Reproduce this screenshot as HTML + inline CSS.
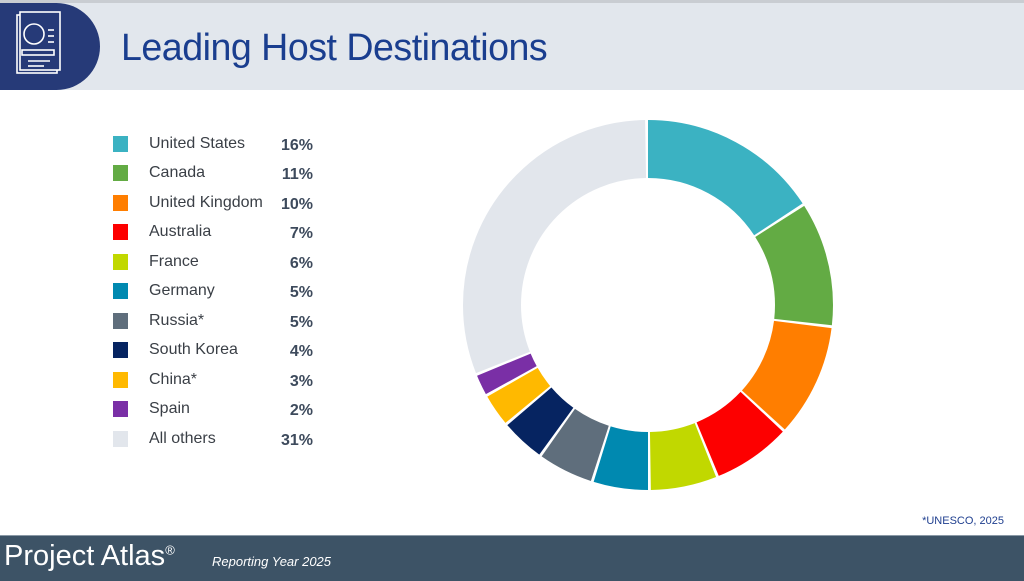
<!DOCTYPE html>
<html><head><meta charset="utf-8"><style>
body{margin:0;width:1024px;height:580px;overflow:hidden;background:#fff;font-family:"Liberation Sans",sans-serif;position:relative}
.top{position:absolute;left:0;top:0;width:1024px;height:3px;background:#c9cdd2}
.hdr{position:absolute;left:0;top:3px;width:1024px;height:87px;background:#e2e7ed}
.blob{position:absolute;left:0;top:3px;width:100px;height:87px;background:#263a78;border-radius:0 44px 44px 0}
h1{position:absolute;left:121px;top:26px;margin:0;font-weight:normal;font-size:37.6px;color:#1a3e8f;letter-spacing:-0.5px}
.row{position:absolute;left:113px;height:20px;font-size:16px;color:#3a3f46}
.sq{position:absolute;left:0;top:1px;width:15px;height:16px}
.lb{position:absolute;left:36px;top:0;white-space:nowrap}
.pc{position:absolute;left:160px;width:40px;text-align:right;top:2px;font-weight:bold;color:#3d4a5c}
.ft{position:absolute;left:0;top:535px;width:1024px;height:45px;background:#3d5366;border-top:1px solid #8a99a6}
</style></head><body>
<div class="top"></div><div class="hdr"></div><div class="blob"></div>
<svg style="position:absolute;left:14px;top:10px" width="60" height="70" viewBox="0 0 60 70" fill="none" stroke="#fff" stroke-width="1.6">
<rect x="3" y="5" width="40" height="58"/><rect x="6" y="2" width="40" height="58" fill="#263a78"/>
<circle cx="20" cy="24" r="10"/><line x1="34" y1="20" x2="40" y2="20"/><line x1="34" y1="26" x2="40" y2="26"/><line x1="34" y1="32" x2="40" y2="32"/>
<rect x="8" y="40" width="32" height="5"/><line x1="14" y1="51" x2="36" y2="51"/><line x1="14" y1="56" x2="30" y2="56"/>
</svg>
<h1>Leading Host Destinations</h1>
<div class="row" style="top:135px"><div class="sq" style="background:#3bb2c2"></div><div class="lb">United States</div><div class="pc">16%</div></div>
<div class="row" style="top:164px"><div class="sq" style="background:#63ab44"></div><div class="lb">Canada</div><div class="pc">11%</div></div>
<div class="row" style="top:194px"><div class="sq" style="background:#ff7e00"></div><div class="lb">United Kingdom</div><div class="pc">10%</div></div>
<div class="row" style="top:223px"><div class="sq" style="background:#fd0000"></div><div class="lb">Australia</div><div class="pc">7%</div></div>
<div class="row" style="top:253px"><div class="sq" style="background:#c1d800"></div><div class="lb">France</div><div class="pc">6%</div></div>
<div class="row" style="top:282px"><div class="sq" style="background:#0089b0"></div><div class="lb">Germany</div><div class="pc">5%</div></div>
<div class="row" style="top:312px"><div class="sq" style="background:#5f6e7c"></div><div class="lb">Russia*</div><div class="pc">5%</div></div>
<div class="row" style="top:341px"><div class="sq" style="background:#062461"></div><div class="lb">South Korea</div><div class="pc">4%</div></div>
<div class="row" style="top:371px"><div class="sq" style="background:#ffb900"></div><div class="lb">China*</div><div class="pc">3%</div></div>
<div class="row" style="top:400px"><div class="sq" style="background:#7a2fa6"></div><div class="lb">Spain</div><div class="pc">2%</div></div>
<div class="row" style="top:430px"><div class="sq" style="background:#e2e6ec"></div><div class="lb">All others</div><div class="pc">31%</div></div>
<svg style="position:absolute;left:448px;top:105px" width="400" height="400" viewBox="0 0 400 400">
<g transform="rotate(-90 200 200)" fill="none" stroke-width="58">
<circle cx="200" cy="200" r="156" pathLength="100" stroke="#3bb2c2" stroke-dasharray="15.75 200" stroke-dashoffset="0"/>
<circle cx="200" cy="200" r="156" pathLength="100" stroke="#63ab44" stroke-dasharray="10.75 200" stroke-dashoffset="-16"/>
<circle cx="200" cy="200" r="156" pathLength="100" stroke="#ff7e00" stroke-dasharray="9.75 200" stroke-dashoffset="-27"/>
<circle cx="200" cy="200" r="156" pathLength="100" stroke="#fd0000" stroke-dasharray="6.75 200" stroke-dashoffset="-37"/>
<circle cx="200" cy="200" r="156" pathLength="100" stroke="#c1d800" stroke-dasharray="5.75 200" stroke-dashoffset="-44"/>
<circle cx="200" cy="200" r="156" pathLength="100" stroke="#0089b0" stroke-dasharray="4.75 200" stroke-dashoffset="-50"/>
<circle cx="200" cy="200" r="156" pathLength="100" stroke="#5f6e7c" stroke-dasharray="4.75 200" stroke-dashoffset="-55"/>
<circle cx="200" cy="200" r="156" pathLength="100" stroke="#062461" stroke-dasharray="3.75 200" stroke-dashoffset="-60"/>
<circle cx="200" cy="200" r="156" pathLength="100" stroke="#ffb900" stroke-dasharray="2.75 200" stroke-dashoffset="-64"/>
<circle cx="200" cy="200" r="156" pathLength="100" stroke="#7a2fa6" stroke-dasharray="1.75 200" stroke-dashoffset="-67"/>
<circle cx="200" cy="200" r="156" pathLength="100" stroke="#e2e6ec" stroke-dasharray="30.75 200" stroke-dashoffset="-69"/>
</g></svg>
<div style="position:absolute;right:20px;top:515px;font-size:11px;color:#1f3f8f">*UNESCO, 2025</div>
<div class="ft"></div>
<div style="position:absolute;left:4px;top:540px;font-size:29px;color:#fff">Project Atlas<sup style="font-size:13px">®</sup></div>
<div style="position:absolute;left:212px;top:554px;font-size:13px;font-style:italic;color:#fff">Reporting Year 2025</div>
</body></html>
